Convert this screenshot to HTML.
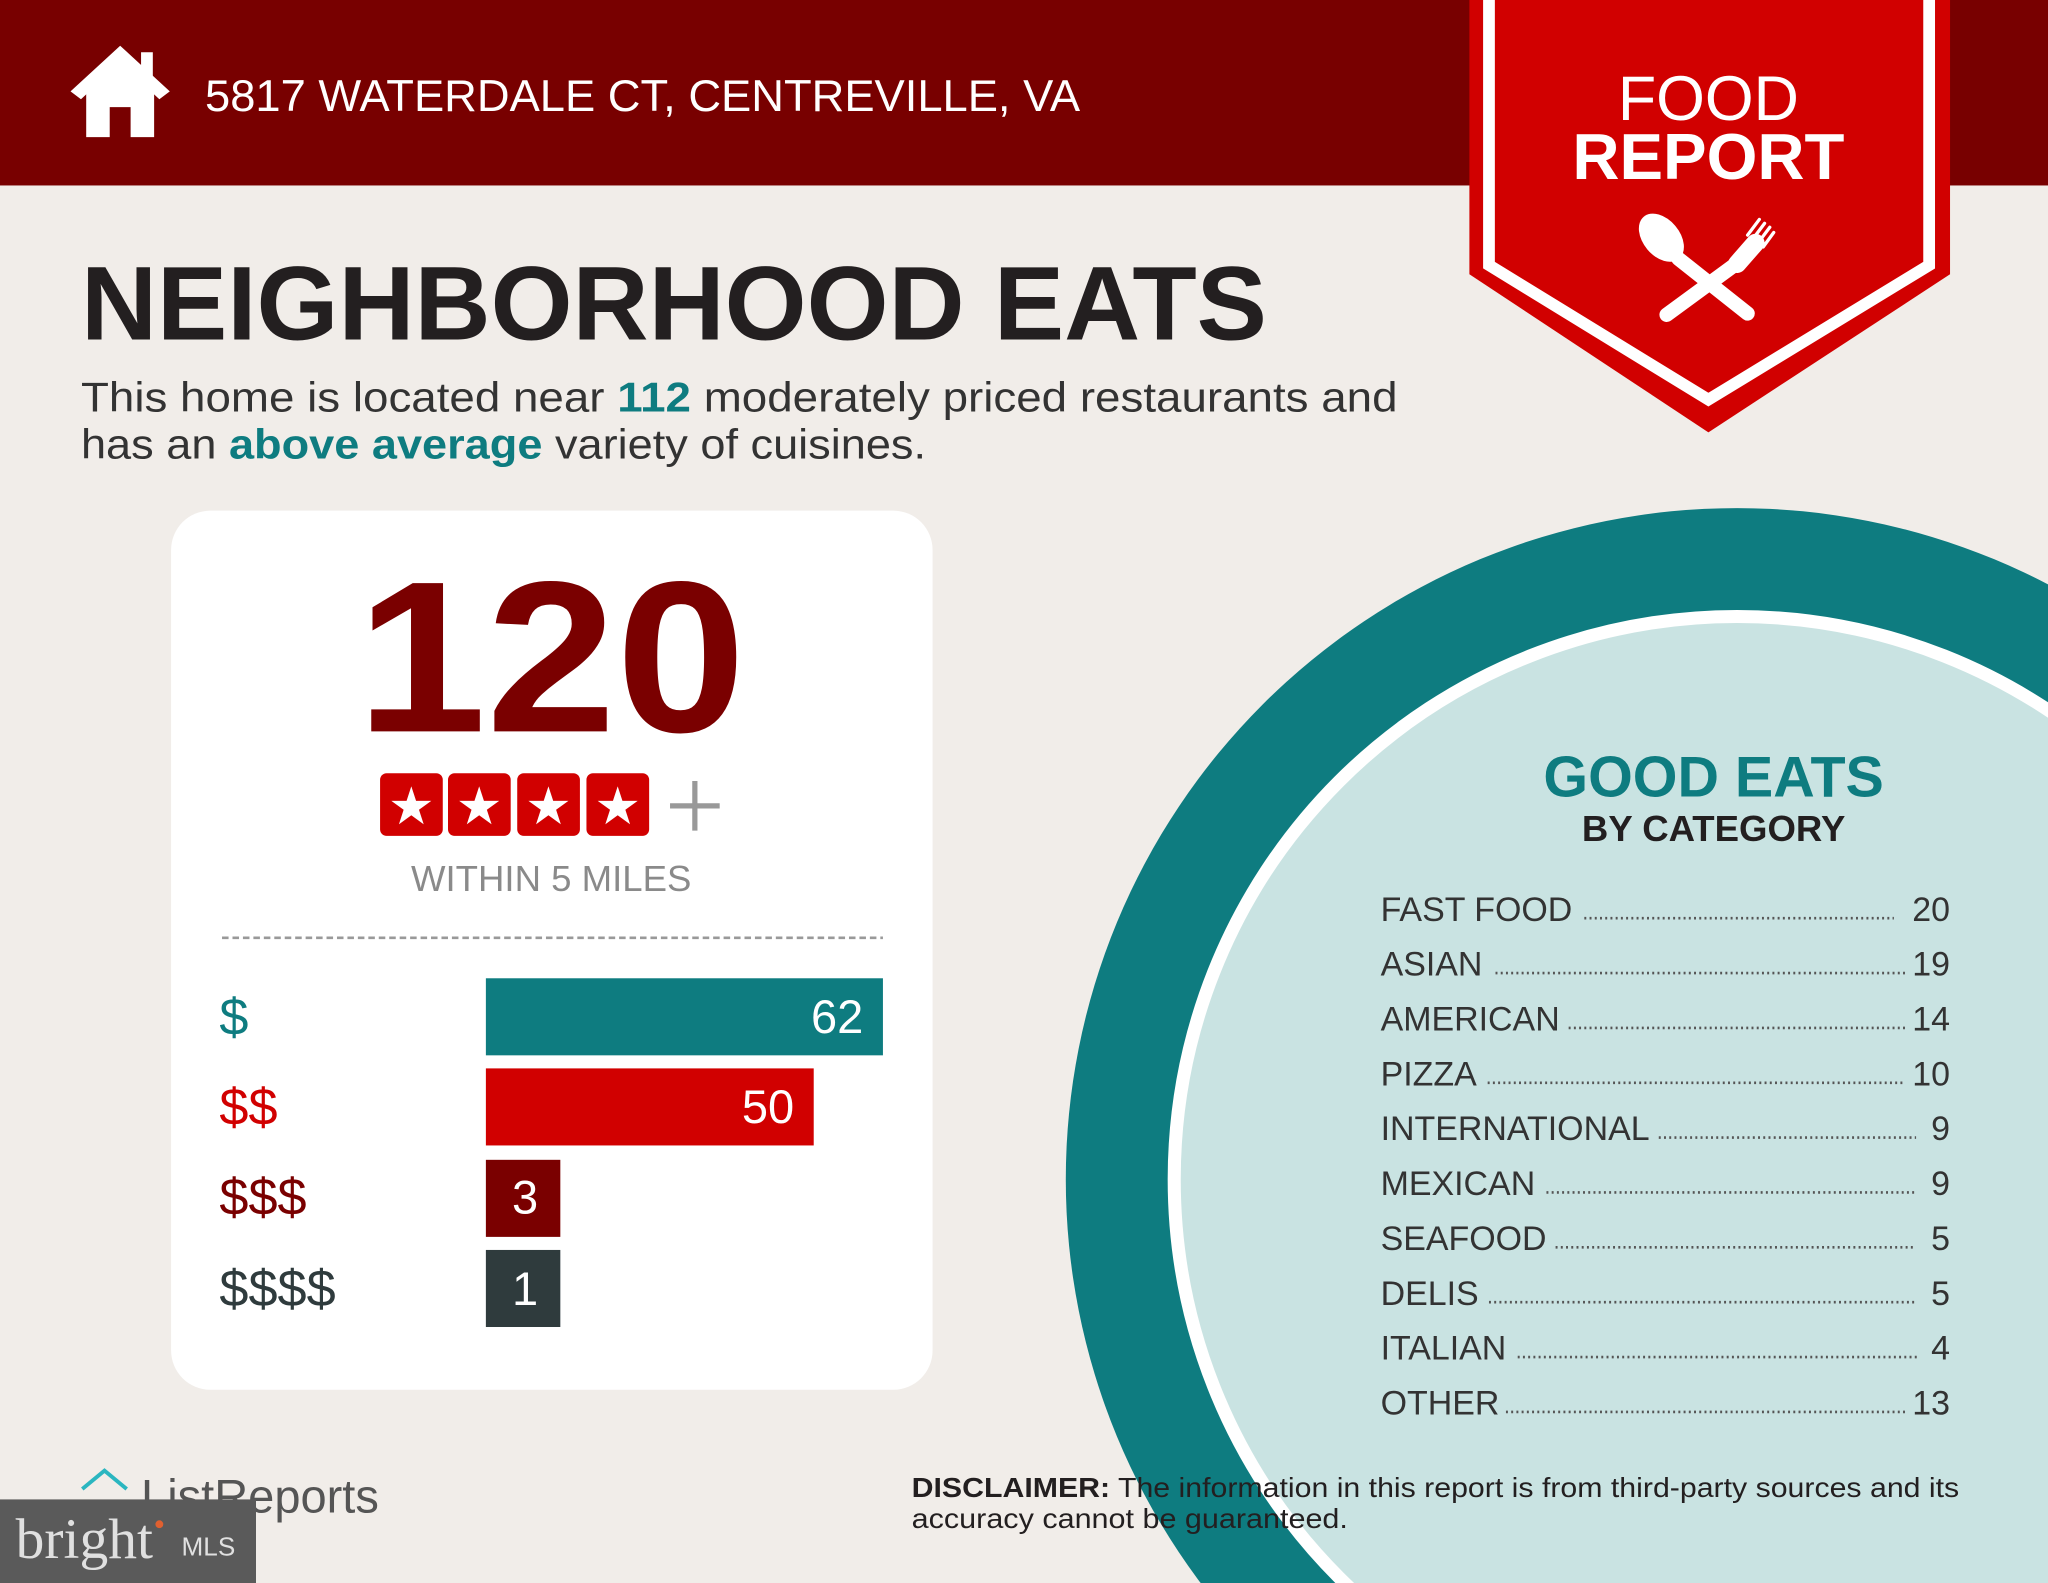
<!DOCTYPE html>
<html><head><meta charset="utf-8"><style>
html,body{margin:0;padding:0;background:#f1ede9;width:2048px;height:1583px;overflow:hidden;}
svg{display:block;}
text{font-family:"Liberation Sans",sans-serif;}
</style></head><body>
<svg width="2048" height="1583" viewBox="0 0 1568 1212" preserveAspectRatio="none" xmlns="http://www.w3.org/2000/svg">
<rect width="1568" height="1212" fill="#f1ede9"/>
<rect x="0" y="0" width="1568" height="142" fill="#780000"/>
<g fill="#fff">
<polygon points="92,35 54,70 62,76 92,48 122,76 130,70"/>
<rect x="108" y="40" width="9" height="22"/>
<path d="M66,68 L92,46 L118,68 L118,105 L100,105 L100,82 L84,82 L84,105 L66,105 Z"/>
</g>
<text x="157" y="85" font-size="34" fill="#fff" textLength="670" lengthAdjust="spacingAndGlyphs">5817 WATERDALE CT, CENTREVILLE, VA</text>
<polygon points="1125,0 1493,0 1493,210 1308,331 1125,210" fill="#d10000"/>
<polyline points="1140,0 1140,203 1308,306 1477,203 1477,0" fill="none" stroke="#fff" stroke-width="9"/>
<text x="1308" y="92" font-size="48" fill="#fff" text-anchor="middle" style="font-weight:normal">FOOD</text>
<text x="1308" y="137" font-size="50" font-weight="bold" fill="#fff" text-anchor="middle">REPORT</text>
<g stroke="#fff" stroke-linecap="round" fill="none">
<line x1="1285" y1="198" x2="1338" y2="240" stroke-width="11"/>
<line x1="1332" y1="200" x2="1276" y2="241" stroke-width="11"/>
<line x1="1330" y1="202" x2="1344" y2="186" stroke-width="14"/>
<line x1="1338" y1="180" x2="1347" y2="168" stroke-width="2.5"/>
<line x1="1342" y1="183" x2="1351" y2="171" stroke-width="2.5"/>
<line x1="1346" y1="186" x2="1355" y2="174" stroke-width="2.5"/>
<line x1="1350" y1="189" x2="1358" y2="178" stroke-width="2.5"/>
</g>
<ellipse cx="1272" cy="182" rx="14" ry="21" transform="rotate(-40 1272 182)" fill="#fff"/>
<text x="62" y="260" font-size="80" font-weight="bold" fill="#231f20" textLength="908" lengthAdjust="spacingAndGlyphs">NEIGHBORHOOD EATS</text>
<text x="62" y="315" font-size="32" fill="#333" textLength="1008" lengthAdjust="spacingAndGlyphs">This home is located near <tspan font-weight="bold" fill="#0e7c80">112</tspan> moderately priced restaurants and</text>
<text x="62" y="351" font-size="32" fill="#333" textLength="647" lengthAdjust="spacingAndGlyphs">has an <tspan font-weight="bold" fill="#0e7c80">above average</tspan> variety of cuisines.</text>
<rect x="131" y="391" width="583" height="673" rx="30" fill="#fff"/>
<text x="422" y="560" font-size="165" font-weight="bold" fill="#7a0000" text-anchor="middle" textLength="298" lengthAdjust="spacingAndGlyphs">120</text>
<rect x="291" y="592" width="48" height="48" rx="5" fill="#d10000"/>
<rect x="343" y="592" width="48" height="48" rx="5" fill="#d10000"/>
<rect x="396" y="592" width="48" height="48" rx="5" fill="#d10000"/>
<rect x="449" y="592" width="48" height="48" rx="5" fill="#d10000"/>
<g fill="#fff" font-size="40" text-anchor="middle">
<text x="315" y="631">★</text><text x="367" y="631">★</text><text x="420" y="631">★</text><text x="473" y="631">★</text>
</g>
<path d="M513,617 H551 M532,598 V636" stroke="#999" stroke-width="4"/>
<text x="422" y="682" font-size="28" fill="#8a8a8a" text-anchor="middle">WITHIN 5 MILES</text>
<line x1="170" y1="718" x2="676" y2="718" stroke="#999" stroke-width="2" stroke-dasharray="5,3"/>
<rect x="372" y="749" width="304" height="59" fill="#0e7c80"/>
<rect x="372" y="818" width="251" height="59" fill="#d10000"/>
<rect x="372" y="888" width="57" height="59" fill="#7a0000"/>
<rect x="372" y="957" width="57" height="59" fill="#2f3b3d"/>
<g font-size="36" fill="#fff" text-anchor="end">
<text x="661" y="791">62</text><text x="608" y="860">50</text>
</g>
<g font-size="36" fill="#fff" text-anchor="middle">
<text x="402" y="929">3</text><text x="402" y="999">1</text>
</g>
<g font-size="40">
<text x="168" y="792" fill="#0e7c80">$</text>
<text x="168" y="861" fill="#d10000">$$</text>
<text x="168" y="930" fill="#7a0000">$$$</text>
<text x="168" y="1000" fill="#2f3b3d">$$$$</text>
</g>
<circle cx="1330" cy="903" r="514" fill="#0e7c80"/>
<circle cx="1330" cy="903" r="431" fill="#c9e3e2" stroke="#fff" stroke-width="10"/>
<text x="1312" y="610" font-size="44" font-weight="bold" fill="#0e7c80" text-anchor="middle">GOOD EATS</text>
<text x="1312" y="644" font-size="28" font-weight="bold" fill="#231f20" text-anchor="middle">BY CATEGORY</text>
<g font-size="26" fill="#333">
<text x="1057" y="705">FAST FOOD</text><text x="1493" y="705" text-anchor="end">20</text>
<text x="1057" y="747">ASIAN</text><text x="1493" y="747" text-anchor="end">19</text>
<text x="1057" y="789">AMERICAN</text><text x="1493" y="789" text-anchor="end">14</text>
<text x="1057" y="831">PIZZA</text><text x="1493" y="831" text-anchor="end">10</text>
<text x="1057" y="873">INTERNATIONAL</text><text x="1493" y="873" text-anchor="end">9</text>
<text x="1057" y="915">MEXICAN</text><text x="1493" y="915" text-anchor="end">9</text>
<text x="1057" y="957">SEAFOOD</text><text x="1493" y="957" text-anchor="end">5</text>
<text x="1057" y="999">DELIS</text><text x="1493" y="999" text-anchor="end">5</text>
<text x="1057" y="1041">ITALIAN</text><text x="1493" y="1041" text-anchor="end">4</text>
<text x="1057" y="1083">OTHER</text><text x="1493" y="1083" text-anchor="end">13</text>
</g>
<g stroke="#555" stroke-width="2" stroke-dasharray="1.5,2.5">
<line x1="1213" y1="703" x2="1450" y2="703"/>
<line x1="1145" y1="745" x2="1460" y2="745"/>
<line x1="1201" y1="787" x2="1460" y2="787"/>
<line x1="1139" y1="829" x2="1458" y2="829"/>
<line x1="1270" y1="871" x2="1467" y2="871"/>
<line x1="1184" y1="913" x2="1467" y2="913"/>
<line x1="1191" y1="955" x2="1467" y2="955"/>
<line x1="1140" y1="997" x2="1467" y2="997"/>
<line x1="1162" y1="1039" x2="1470" y2="1039"/>
<line x1="1153" y1="1081" x2="1460" y2="1081"/>
</g>
<text x="698" y="1146" font-size="21" fill="#231f20" textLength="802" lengthAdjust="spacingAndGlyphs"><tspan font-weight="bold">DISCLAIMER:</tspan> The information in this report is from third-party sources and its</text>
<text x="698" y="1170" font-size="21" fill="#231f20" textLength="334" lengthAdjust="spacingAndGlyphs">accuracy cannot be guaranteed.</text>
<path d="M63,1140 L80,1126 L97,1140" fill="none" stroke="#2bb6c0" stroke-width="3"/>
<text x="108" y="1158" font-size="36" fill="#555">ListReports</text>
<rect x="0" y="1148" width="196" height="64" fill="#5a5a5a"/>
<text x="12" y="1193" font-size="44" fill="#e0e0e0" style="font-family:'Liberation Serif',serif">bright</text>
<text x="139" y="1191" font-size="20" fill="#e0e0e0">MLS</text>
<circle cx="122" cy="1167" r="3" fill="#e06030"/>
</svg>
</body></html>
